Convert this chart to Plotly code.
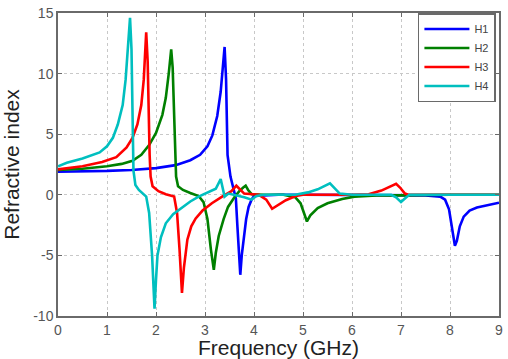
import plotly.graph_objects as go

# ---- data ----
h1_x = [0, 0.5, 1.0, 1.5, 2.0, 2.4, 2.7, 2.9, 3.05, 3.15, 3.25, 3.32, 3.37, 3.40, 3.43, 3.46,
        3.52, 3.58, 3.63, 3.66, 3.70, 3.72, 3.75, 3.79, 3.84, 3.89, 3.95, 4.0, 4.5, 5.0, 6.0,
        7.0, 7.5, 7.8, 7.9, 7.98, 8.05, 8.1, 8.14, 8.2, 8.28, 8.4, 8.55, 8.7, 8.85, 9.0]
h1_y = [1.9, 1.92, 1.97, 2.05, 2.2, 2.45, 2.85, 3.3, 4.0, 4.9, 6.5, 8.5, 10.8, 12.2, 9.5, 3.3,
        1.5, 0.5, -0.3, -2.5, -5.5, -6.6, -5.0, -3.4, -2.0, -1.0, -0.4, -0.1, 0.0, 0.0, 0.0,
        0.0, -0.05, -0.15, -0.4, -1.2, -2.8, -4.2, -3.8, -2.6, -1.8, -1.3, -1.05, -0.9, -0.75, -0.65]

h2_x = [0, 0.5, 1.0, 1.3, 1.52, 1.7, 1.86, 2.0, 2.13, 2.2, 2.26, 2.31, 2.34, 2.37, 2.39, 2.41,
        2.45, 2.55, 2.7, 2.87, 2.97, 3.05, 3.12, 3.18, 3.22, 3.28, 3.38, 3.47, 3.6, 3.7, 3.78,
        3.83, 3.88, 3.95, 4.2, 4.6, 4.84, 4.95, 5.02, 5.08, 5.15, 5.3, 5.5, 5.8, 6.05, 6.5,
        7.0, 7.5, 8.0, 9.0]
h2_y = [2.05, 2.15, 2.35, 2.55, 2.8, 3.3, 4.1, 5.1, 6.6, 8.0, 10.0, 12.0, 10.5, 6.0, 3.3, 1.5,
        0.7, 0.4, 0.15, -0.1, -0.6, -2.0, -4.5, -6.2, -4.8, -3.4, -2.0, -1.0, -0.2, 0.3, 0.6,
        0.75, 0.4, 0.05, 0.0, 0.0, -0.2, -0.7, -1.5, -2.2, -1.7, -1.1, -0.7, -0.35, -0.15, -0.05,
        -0.05, 0.0, 0.0, 0.0]

h3_x = [0, 0.5, 0.9, 1.19, 1.4, 1.52, 1.62, 1.70, 1.75, 1.80, 1.83, 1.85, 1.87, 1.89, 1.93,
        2.05, 2.2, 2.37, 2.43, 2.48, 2.53, 2.57, 2.64, 2.72, 2.81, 2.95, 3.14, 3.35, 3.54, 3.64,
        3.72, 3.8, 4.1, 4.25, 4.37, 4.5, 4.65, 4.85, 5.0, 6.0, 6.34, 6.6, 6.9, 6.98, 7.08, 7.15,
        7.3, 9.0]
h3_y = [2.1, 2.35, 2.7, 3.1, 3.9, 4.7, 5.8, 7.4, 9.5, 13.4, 11.0, 6.0, 3.3, 1.5, 0.7,
        0.3, 0.05, -0.15, -1.5, -4.5, -8.1, -6.0, -3.7, -2.6, -1.95, -1.3, -0.7, -0.15, 0.3, 0.75,
        0.4, 0.1, 0.0, -0.4, -1.15, -0.8, -0.45, -0.1, 0.0, 0.0, 0.05, 0.35, 0.9, 0.6, 0.1, 0.0,
        0.0, 0.0]

h4_x = [0, 0.18, 0.5, 0.85, 1.0, 1.12, 1.22, 1.32, 1.38, 1.43, 1.47, 1.50, 1.52, 1.54, 1.58,
        1.65, 1.8, 1.86, 1.92, 1.97, 2.0, 2.03, 2.1, 2.2, 2.35, 2.54, 2.7, 2.87, 3.05, 3.22,
        3.32, 3.36, 3.40, 3.48, 3.6, 3.8, 3.95, 4.05, 4.2, 4.84, 5.1, 5.3, 5.55, 5.65, 5.75,
        6.0, 6.8, 6.9, 7.0, 7.08, 7.17, 9.0]
h4_y = [2.35, 2.65, 3.0, 3.5, 4.0, 4.7, 5.8, 7.4, 9.5, 12.5, 14.6, 12.0, 6.0, 2.0, 0.8,
        0.4, -0.15, -1.5, -5.0, -9.4, -7.0, -5.0, -3.5, -2.35, -1.6, -1.0, -0.55, -0.15, 0.2, 0.5,
        1.3, 0.6, -0.15, 0.1, 0.0, -0.2, -0.4, -0.1, 0.0, 0.0, 0.2, 0.45, 0.95, 0.5, 0.1,
        0.0, 0.0, -0.2, -0.6, -0.3, 0.0, 0.0]

series = [("H1", h1_x, h1_y, "#0000ff"),
          ("H2", h2_x, h2_y, "#008000"),
          ("H3", h3_x, h3_y, "#ff0000"),
          ("H4", h4_x, h4_y, "#00bfbf")]

x_ticks = [0, 1, 2, 3, 4, 5, 6, 7, 8, 9]
y_ticks = [-10, -5, 0, 5, 10, 15]

fig = go.Figure()
for name, xs, ys, col in series:
    fig.add_trace(go.Scatter(x=xs, y=ys, mode="lines", name=name,
                             line=dict(color=col, width=2.6)))

axis_common = dict(showline=True, linecolor="#6a6a6a", linewidth=1.5, mirror="ticks",
                   ticks="inside", ticklen=4, tickcolor="#6a6a6a",
                   showgrid=True, gridcolor="#c8c8c8", griddash="dot", gridwidth=1,
                   zeroline=False, tickfont=dict(size=14, color="#555555"),
                   ticklabeloverflow="allow")

fig.update_layout(
    width=508, height=359,
    margin=dict(l=58, r=5, t=6, b=43),
    paper_bgcolor="white", plot_bgcolor="white",
    font=dict(family="Liberation Sans, Arial, sans-serif"),
    xaxis=dict(range=[0, 9], tickvals=x_ticks, ticktext=[str(v) for v in x_ticks],
               title=dict(text="Frequency (GHz)", font=dict(size=21, color="#222222"), standoff=0),
               **axis_common),
    yaxis=dict(range=[-10, 15], tickvals=y_ticks, ticktext=[str(v) for v in y_ticks],
               title=dict(text="Refractive index", font=dict(size=21, color="#222222"), standoff=9),
               **axis_common),
    legend=dict(x=0.993, y=1.0, xanchor="right", yanchor="top",
                bgcolor="white", bordercolor="#6a6a6a", borderwidth=1.5,
                font=dict(size=11, color="#444444"), itemwidth=45,
                tracegroupgap=0),
    showlegend=True,
)

fig.write_html("out.html", config={"displayModeBar": False},
               post_script="document.body.style.margin='0';document.body.style.overflow='hidden';")
